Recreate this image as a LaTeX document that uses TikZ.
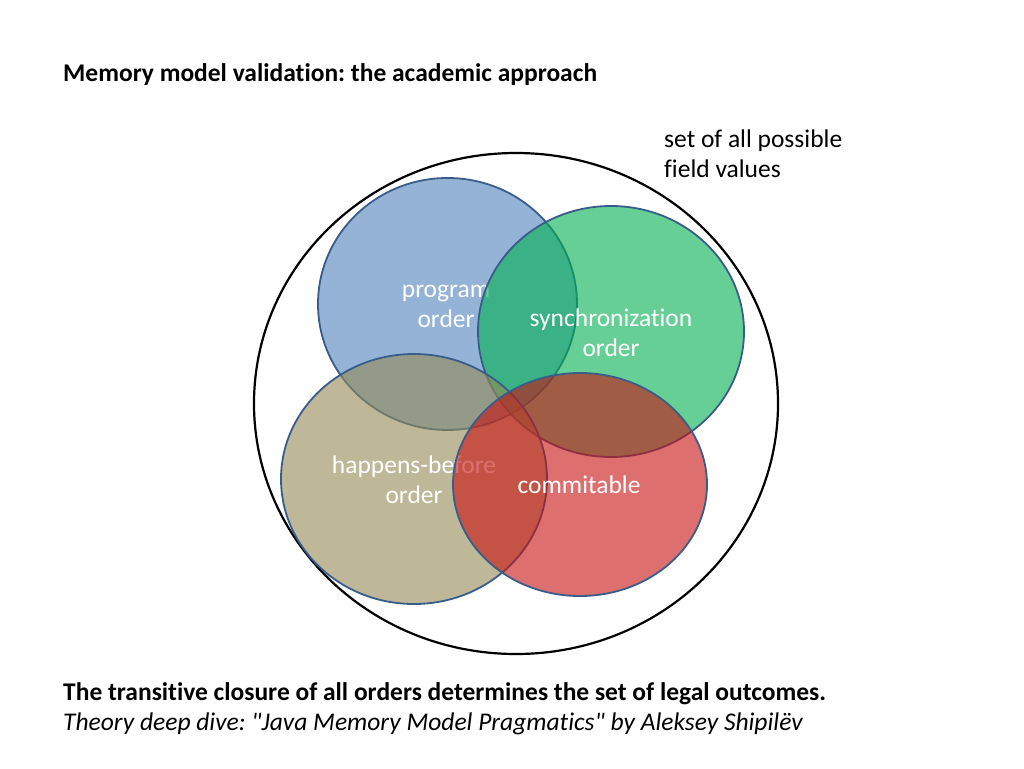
\documentclass[tikz,border=0pt]{standalone}
\usepackage{fontspec}
\setmainfont{Carlito}[Ligatures=NoCommon]
\newcommand\strq{\XeTeXglyph\XeTeXcharglyph"0022\relax}
\frenchspacing
\begin{document}
\begin{tikzpicture}[x=1pt,y=-1pt,
  setb/.style={draw=black,line width=2.2pt},
  blob/.style={draw=blueborder,line width=1.8pt,fill opacity=0.6},
  lbl/.style={text=white,align=center,font=\fontsize{25.5}{30}\selectfont,inner sep=0pt},
  plain/.style={text=black,align=left,font=\fontsize{25.5}{30}\selectfont,inner sep=0pt,anchor=west}]
\definecolor{blueborder}{RGB}{56,93,138}
\definecolor{cblue}{RGB}{79,129,189}
\definecolor{cgreen}{RGB}{0,176,80}
\definecolor{ctan}{RGB}{148,138,84}
\definecolor{cred}{RGB}{200,16,16}
\useasboundingbox (0,0) rectangle (1024,768);
\fill[white] (0,0) rectangle (1024,768);
\node[font=\bfseries\fontsize{25.5}{30}\selectfont,anchor=west,inner sep=0pt] (title) at (63,75) {Memory model validation: the academic approach};
\node[plain,align=left,anchor=west] (setlbl) at (664,154) {set of all possible\\field values};
\draw[setb] (516,403.5) ellipse [x radius=262, y radius=250.5] coordinate (set);
% blue
\draw[blob,fill=cblue] (447.5,304) ellipse [x radius=129.5, y radius=126];
\node[lbl] (po) at (446,306) {program\\order};
% green
\draw[blob,fill=cgreen] (611,331.5) ellipse [x radius=133, y radius=125.5];
\node[lbl] (so) at (611,333) {synchronization\\order};
% tan
\draw[blob,fill=ctan] (414,479) ellipse [x radius=133, y radius=125];
\node[lbl] (hb) at (414,480) {happens-before\\order};
% red
\draw[blob,fill=cred] (580,484.5) ellipse [x radius=127, y radius=111.5];
\node[lbl] (cm) at (579,485) {commitable};
\node[font=\bfseries\fontsize{25.5}{30}\selectfont,anchor=west,inner sep=0pt] (concl) at (63,694) {The transitive closure of all orders determines the set of legal outcomes.};
\node[font=\itshape\fontsize{25.5}{30}\selectfont,anchor=west,inner sep=0pt] (ref) at (63,724) {Theory deep dive: \strq Java Memory Model Pragmatics\strq{} by Aleksey Shipilëv};
\end{tikzpicture}
\end{document}
